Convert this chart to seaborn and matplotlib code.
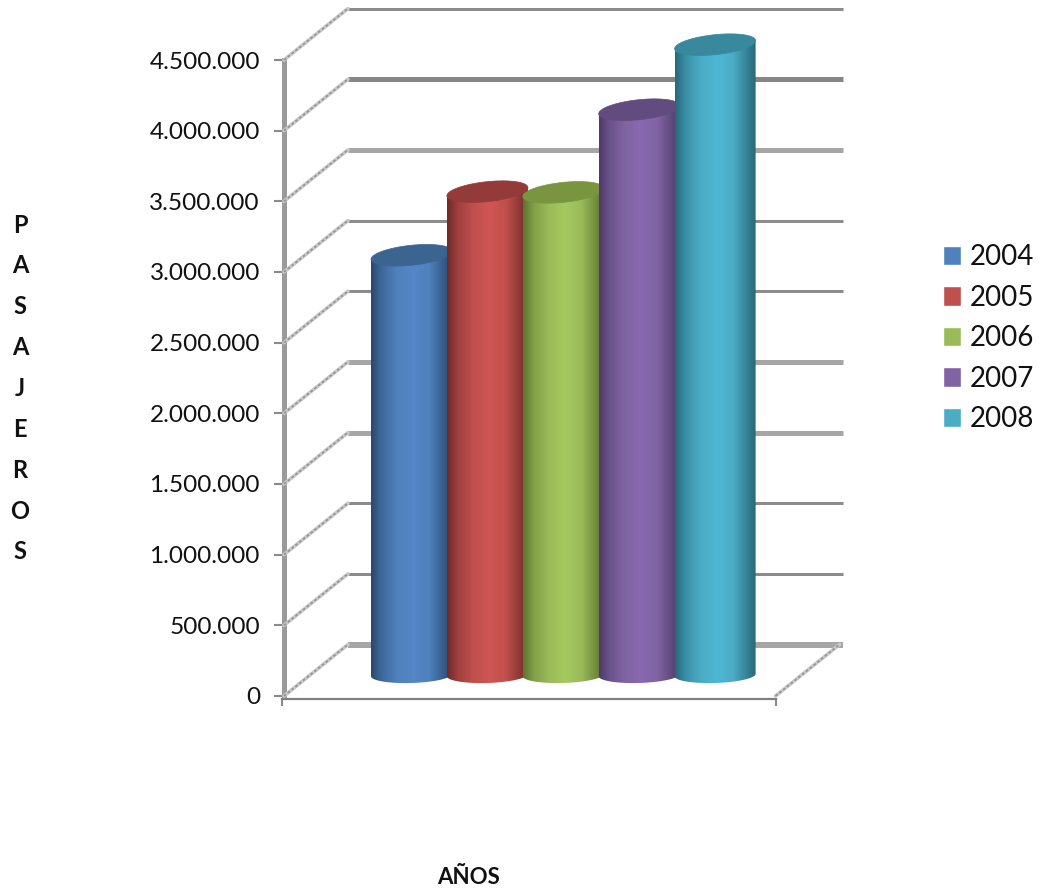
import numpy as np
import pandas as pd
import matplotlib
matplotlib.use("Agg")
import matplotlib.pyplot as plt
import seaborn as sns
from matplotlib.colors import LinearSegmentedColormap, to_rgb
from matplotlib.patches import Patch, PathPatch
from matplotlib.path import Path
from matplotlib.transforms import ScaledTranslation, blended_transform_factory

YEARS = ["2004", "2005", "2006", "2007", "2008"]
PASAJEROS = [2970000, 3420000, 3415000, 4000000, 4460000]
TICKS = [0, 500000, 1000000, 1500000, 2000000, 2500000, 3000000, 3500000, 4000000, 4500000]
TICK_LABELS = ["0", "500.000", "1.000.000", "1.500.000", "2.000.000", "2.500.000",
               "3.000.000", "3.500.000", "4.000.000", "4.500.000"]
YLABEL = "P\nA\nS\nA\nJ\nE\nR\nO\nS"
XLABEL = "AÑOS"

PALETTE = ["#4F81BD", "#C0504D", "#9BBB59", "#8064A2", "#4BACC6"]
CENTER = ["#5587C9", "#CF5653", "#A5C95F", "#8969B0", "#4EB7D4"]
EDGE = ["#28496E", "#6E2A28", "#5C7530", "#4E3B68", "#28687A"]
TOP = ["#3C6490", "#943A38", "#7A9540", "#624B7F", "#38889E"]
GRID_W = [6, 3, 3, 5, 5, 3, 3, 5, 5, 3]
GRID_C = ["#A6A6A6", "#8C8C8C", "#8C8C8C", "#A6A6A6", "#A6A6A6",
          "#8C8C8C", "#8C8C8C", "#A6A6A6", "#868686", "#8C8C8C"]

W, H = 1042, 890
sns.set_theme(style="white")
plt.rcParams["font.family"] = ["Lato", "DejaVu Sans"]

fig = plt.figure(figsize=(W / 100, H / 100), dpi=100, facecolor="white")


def px_axes(x0, x1, y_bottom, y_top, **kw):
    return fig.add_axes([x0 / W, 1 - y_bottom / H, (x1 - x0) / W, (y_bottom - y_top) / H], **kw)


# ---- wall / axis frame
AX_X0, AX_X1 = 282, 775.5
ax = px_axes(AX_X0, AX_X1, 696, 60)
sns.despine(ax=ax, top=True, right=True)
ax.spines["left"].set_linewidth(3.6)
ax.spines["left"].set_color("#9A9A9A")
ax.spines["left"].set_position(("outward", -1.1))
ax.spines["bottom"].set_linewidth(1.6)
ax.spines["bottom"].set_color("#808080")
ax.spines["bottom"].set_position(("outward", 2))
ax.patch.set_alpha(0)
ax.set_xlim(0, 1)
ax.set_ylim(0, 4500000)
ax.set_xticks([0, 1])
ax.set_xticklabels(["", ""])
ax.set_yticks(TICKS)
ax.set_yticklabels(TICK_LABELS, fontsize=17.6, color="#111111")
ax.tick_params(axis="y", left=True, length=7, width=1.5, color="#8A8A8A", pad=10)
ax.tick_params(axis="x", bottom=True, length=5, width=1.5, color="#8A8A8A")

DX, DY = 64, 51.5
back = ScaledTranslation(DX / 100, DY / 100, fig.dpi_scale_trans)
blend = blended_transform_factory(ax.transAxes, ax.transData)
inv = fig.transFigure.inverted()
for v, lw, c in zip(TICKS, GRID_W, GRID_C):
    ax.plot([0.004, 1.007], [v, v], transform=blend + back, color=c, lw=lw * 0.72,
            clip_on=False, zorder=1, solid_capstyle="butt")
    # receding wall and floor edges
    for xa in ([0.004, 1.0] if v == 0 else [0.004]):
        (fx0, fy0) = inv.transform(blend.transform((xa, v)))
        (fx1, fy1) = inv.transform((blend + back).transform((xa, v)))
        fig.add_artist(plt.Line2D([fx0, fx1], [fy0, fy1], color="#C9C9C9", lw=2.6, zorder=1.5))
        fig.add_artist(plt.Line2D([fx0, fx1], [fy0, fy1], color="#969696", lw=1.3,
                                  ls=(0, (1.5, 1.2)), zorder=1.6))

# ---- cylinders
bx = px_axes(AX_X0, AX_X1, 675, 39, facecolor="none")
bx.set_zorder(5)
df = pd.DataFrame({"year": YEARS, "pasajeros": PASAJEROS})
sns.barplot(data=df, x="year", y="pasajeros", hue="year", palette=PALETTE, dodge=False,
            legend=False, width=81 / 75.9, ax=bx, saturation=1, linewidth=0)
X0, STEP = 411.5, 75.9
bx.set_xlim((AX_X0 - X0) / STEP, (AX_X1 - X0) / STEP)
bx.set_ylim(0, 4500000)
bx.axis("off")

units_y = 4500000 / 636
units_x = 1 / STEP
TILT_TOP, TILT_BOT = 0.10, 0.03
B_TOP, B_BOT = 10.0, 8.0
xlim, ylim = bx.get_xlim(), bx.get_ylim()
for i, bar in enumerate(bx.patches):
    x, w, h = bar.get_x(), bar.get_width(), bar.get_height()
    bar.set_visible(False)
    cx, a = x + w / 2, w / 2
    t = np.linspace(0, 2 * np.pi, 200)

    def ell(base, b, tilt, th):
        return (cx + a * np.cos(th),
                base + (b * np.sin(th) + tilt * (w / 2 / units_x) * np.cos(th)) * units_y)

    # body outline: top-left to top-right, then round the lower half of the floor ellipse
    ltx, lty = ell(h, B_TOP, TILT_TOP, np.array([np.pi]))
    rtx, rty = ell(h, B_TOP, TILT_TOP, np.array([0.0]))
    bot_x, bot_y = ell(0, B_BOT, TILT_BOT, np.linspace(0, -np.pi, 80))
    verts = np.vstack([[ltx[0], lty[0]], [rtx[0], rty[0]], np.column_stack([bot_x, bot_y]),
                       [ltx[0], lty[0]]])
    clip = PathPatch(Path(verts), transform=bx.transData, facecolor="none", edgecolor="none")
    bx.add_patch(clip)
    cmap = LinearSegmentedColormap.from_list(
        "c", [(0, EDGE[i]), (0.13, tuple(0.5 * np.array(to_rgb(EDGE[i])) + 0.5 * np.array(to_rgb(CENTER[i])))),
              (0.32, PALETTE[i]), (0.52, CENTER[i]), (0.72, PALETTE[i]),
              (1, EDGE[i])])
    grad = np.linspace(0, 1, 128).reshape(1, -1)
    im = bx.imshow(grad, cmap=cmap, aspect="auto", extent=(x, x + w, -20 * units_y, h + 20 * units_y),
                   zorder=3 + 2 * i, interpolation="bilinear")
    im.set_clip_box(fig.bbox)
    im.set_clip_path(clip)
    top_x, top_y = ell(h, B_TOP, TILT_TOP, t)
    bx.fill(top_x, top_y, color=TOP[i], zorder=4 + 2 * i, lw=0.5, clip_on=False)
bx.set_xlim(xlim)
bx.set_ylim(ylim)

# ---- legend and labels
handles = [Patch(facecolor=c, label=y) for c, y in zip(PALETTE, YEARS)]
fig.legend(handles=handles, loc="upper left", bbox_to_anchor=(943 / W, 1 - 244.5 / H), frameon=False,
           fontsize=20, handlelength=0.65, handleheight=0.7, handletextpad=0.32, labelspacing=0.52,
           labelcolor="#111111", borderpad=0, borderaxespad=0)
fig.text(469 / W, 1 - 878 / H, XLABEL, fontsize=16, fontweight="bold", color="#111111", ha="center", va="center")
fig.text(20 / W, 1 - 388.5 / H, YLABEL, fontsize=17, fontweight="bold", color="#111111", ha="center", va="center",
         linespacing=1.94, multialignment="center")

fig.savefig("out.png", dpi=100, facecolor="white")
